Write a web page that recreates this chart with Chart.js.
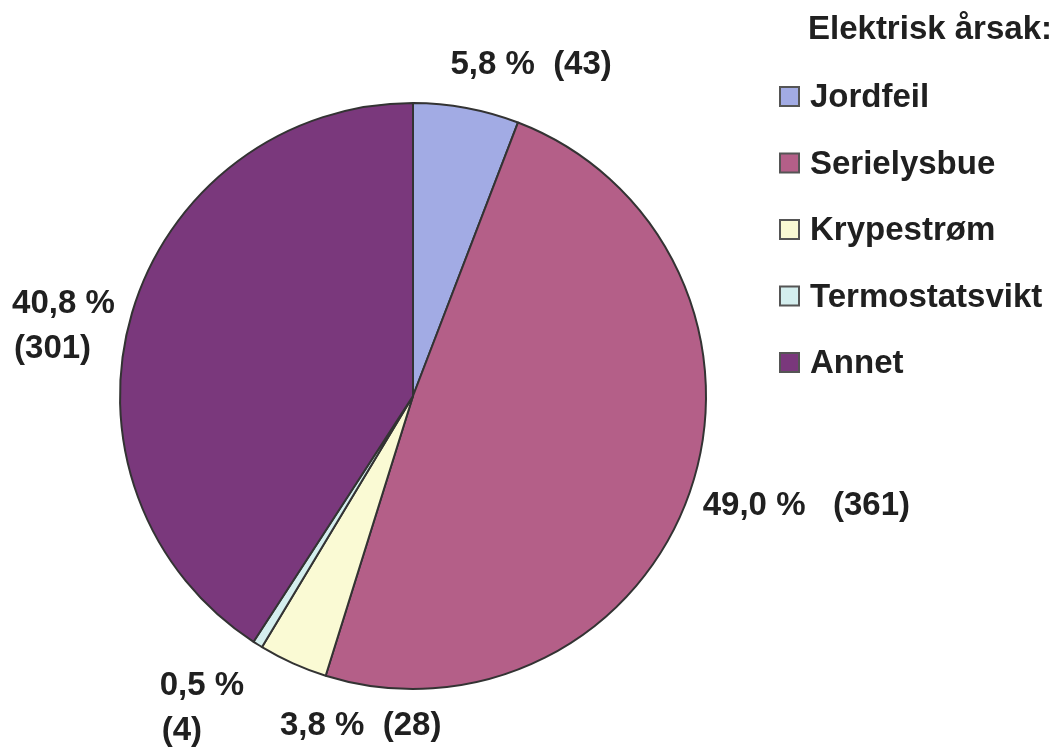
<!DOCTYPE html>
<html>
<head>
<meta charset="utf-8">
<script src="https://cdn.jsdelivr.net/npm/chart.js@4/dist/chart.umd.min.js"></script>
<style>
  body { margin: 0; background: #fff; }
  #wrap { width: 1053px; height: 747px; position: relative; }
</style>
</head>
<body>
<div id="wrap"><canvas id="Chart1"></canvas></div>
<script>
// data
const arsaker = ['Jordfeil', 'Serielysbue', 'Krypestrøm', 'Termostatsvikt', 'Annet'];
const antall = [43, 361, 28, 4, 301];
const farger = ['#a2abe4', '#b45f88', '#fafad4', '#d4eeee', '#7a387c'];
const legendTittel = 'Elektrisk årsak:';

// label layout (nudge from the slice edge, separator, stacked on two lines)
const labelNudge = [[-16, -43], [13, 14], [-13, 63], [-98, 41], [-120, -9]];
const labelGap = ['  ', '   ', '  ', '', ''];
const labelStacked = [false, false, false, true, true];

const font = 'bold 33px "Liberation Sans", Arial, sans-serif';

// prosent-etiketter rundt kaka
const pieLabels = {
  id: 'pieLabels',
  afterDatasetsDraw(chart) {
    const ctx = chart.ctx;
    const meta = chart.getDatasetMeta(0);
    const values = chart.data.datasets[0].data;
    const total = values.reduce((a, b) => a + b, 0);
    ctx.save();
    ctx.font = font;
    ctx.fillStyle = '#202020';
    ctx.textAlign = 'left';
    ctx.textBaseline = 'middle';
    meta.data.forEach((arc, i) => {
      const p = arc.getProps(['x', 'y', 'startAngle', 'endAngle', 'outerRadius'], true);
      const mid = (p.startAngle + p.endAngle) / 2;
      const ax = p.x + Math.cos(mid) * p.outerRadius + labelNudge[i][0];
      const ay = p.y + Math.sin(mid) * p.outerRadius + labelNudge[i][1];
      const pct = (values[i] / total * 100).toFixed(1).replace('.', ',') + ' %';
      const n = '(' + values[i] + ')';
      if (labelStacked[i]) {
        ctx.fillText(pct, ax, ay);
        ctx.fillText(n, ax + 2, ay + 45);
      } else {
        ctx.fillText(pct + labelGap[i] + n, ax, ay);
      }
    });
    ctx.restore();
  }
};

// legende til hoyre
const sideLegend = {
  id: 'sideLegend',
  afterDraw(chart) {
    const ctx = chart.ctx;
    const ds = chart.data.datasets[0];
    ctx.save();
    ctx.font = font;
    ctx.fillStyle = '#202020';
    ctx.textAlign = 'left';
    ctx.textBaseline = 'middle';
    ctx.fillText(legendTittel, 808, 30);
    chart.data.labels.forEach((lab, i) => {
      const y = 97 + i * 66.5;
      ctx.fillStyle = ds.backgroundColor[i];
      ctx.fillRect(780, y - 10, 19, 19);
      ctx.lineWidth = 2;
      ctx.strokeStyle = '#555';
      ctx.strokeRect(780, y - 10, 19, 19);
      ctx.fillStyle = '#202020';
      ctx.fillText(lab, 810, y + 1);
    });
    ctx.restore();
  }
};

new Chart(document.getElementById('Chart1'), {
  type: 'pie',
  data: {
    labels: arsaker,
    datasets: [{
      data: antall,
      backgroundColor: farger,
      borderColor: '#333',
      borderWidth: 2,
      radius: 293
    }]
  },
  options: {
    responsive: true,
    maintainAspectRatio: false,
    animation: false,
    layout: { padding: { left: 56, right: 283, top: 45, bottom: 0 } },
    plugins: {
      legend: { display: false },
      tooltip: { enabled: false }
    }
  },
  plugins: [pieLabels, sideLegend]
});
</script>
</body>
</html>
